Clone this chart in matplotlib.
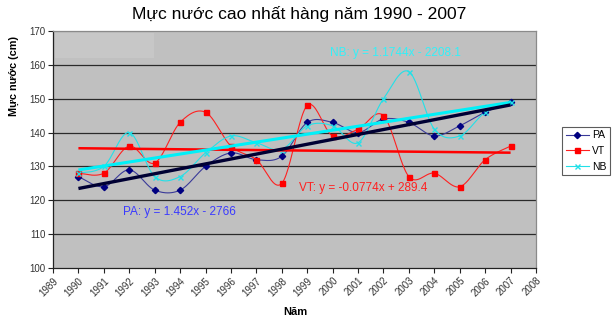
import numpy as np
import matplotlib
matplotlib.use("Agg")
import matplotlib.pyplot as plt
from matplotlib.patches import Rectangle
from matplotlib.lines import Line2D

plt.rcParams["font.family"] = ["Liberation Sans", "DejaVu Sans"]

# Annual peak water levels (cm)
years = list(range(1990, 2008))
pa = [127, 124, 129, 123, 123, 130, 134, 132, 133, 143, 143, 140, 144, 143, 139, 142, 146, 149]
vt = [128, 128, 136, 131, 143, 146, 136, 132, 125, 148, 139, 141, 145, 127, 128, 124, 132, 136]
nb = [128, 130, 140, 127, 127, 134, 139, 137, 135, 142, 142, 137, 150, 158, 141, 139, 146, 149]

# Linear trend coefficients (slope, intercept)
pa_trend = (1.452, -2766.0)
vt_trend = (-0.0774, 289.4)
nb_trend = (1.1744, -2208.1)

series_names = ["PA", "VT", "NB"]
x_ticks = list(range(1989, 2009))
y_ticks = list(range(100, 171, 10))


def smooth(xs, ys, n=24):
    """Cardinal (Bezier) smoothing through every point, spreadsheet style."""
    p = np.column_stack([xs, ys]).astype(float)
    m = len(p)
    out = []
    for i in range(m - 1):
        p0 = p[i - 1] if i > 0 else p[i]
        p1, p2 = p[i], p[i + 1]
        p3 = p[i + 2] if i + 2 < m else p[i + 1]
        c1 = p1 + (p2 - p0) / 6.0
        c2 = p2 - (p3 - p1) / 6.0
        t = np.linspace(0, 1, n, endpoint=(i == m - 2))[:, None]
        seg = ((1 - t) ** 3) * p1 + 3 * ((1 - t) ** 2) * t * c1 + 3 * (1 - t) * t ** 2 * c2 + t ** 3 * p2
        out.append(seg)
    out = np.vstack(out)
    return out[:, 0], out[:, 1]


fig = plt.figure(figsize=(6.15, 3.22), dpi=100)
fig.patch.set_facecolor("white")
ax = fig.add_axes([53 / 615, 1 - 268 / 322, 483 / 615, 237 / 322])
ax.set_facecolor("#c0c0c0")

# faint banner in the top-left corner of the plot area
ax.add_patch(Rectangle((0.004, 0.885), 0.205, 0.105, transform=ax.transAxes,
                       facecolor="#c7c7c7", edgecolor="none", zorder=0.5))

ax.set_xlim(1989, 2008)
ax.set_ylim(100, 170)
for v in y_ticks[1:-1]:
    ax.axhline(v, color="#2a2a2a", lw=0.9, zorder=1)

styles = {
    "PA": dict(data=pa, line="#3a3a99", mcol="#000080", marker="D", ms=3.2),
    "VT": dict(data=vt, line="#ff2020", mcol="#ff0000", marker="s", ms=3.6),
    "NB": dict(data=nb, line="#22e0e8", mcol="#22e0e8", marker="x", ms=3.6),
}
trends = {"PA": (pa_trend, "#000033", 2.4), "VT": (vt_trend, "#ff0000", 1.8),
          "NB": (nb_trend, "#00f0f8", 2.2)}

handles = []
for name in series_names:
    st = styles[name]
    sx, sy = smooth(years, st["data"])
    ax.plot(sx, sy, color=st["line"], lw=0.8, zorder=3)
    ax.plot(years, st["data"], ls="none", marker=st["marker"], ms=st["ms"],
            mfc=st["mcol"], mec=st["mcol"], mew=1.0, zorder=4)
    handles.append(Line2D([], [], color=st["line"], lw=0.8, marker=st["marker"],
                          ms=st["ms"], mfc=st["mcol"], mec=st["mcol"]))

for name in ["VT", "NB", "PA"]:
    (a, b), col, lw = trends[name]
    tx = np.array([years[0], years[-1]], dtype=float)
    ax.plot(tx, a * tx + b, color=col, lw=lw, zorder=5, solid_capstyle="butt")

ax.text(330 / 615, 1 - 53 / 322, "NB: y = 1.1744x - 2208.1", transform=fig.transFigure,
        color="#33f0f8", fontsize=8.5, va="center", ha="left")
ax.text(299 / 615, 1 - 188 / 322, "VT: y = -0.0774x + 289.4", transform=fig.transFigure,
        color="#ff2020", fontsize=8.5, va="center", ha="left")
ax.text(123 / 615, 1 - 212 / 322, "PA: y = 1.452x - 2766", transform=fig.transFigure,
        color="#3a3aff", fontsize=8.5, va="center", ha="left")

ax.set_xticks(x_ticks)
ax.set_xticklabels([str(v) for v in x_ticks], rotation=45, ha="right", va="top",
                   rotation_mode="anchor", fontsize=7, color="#333333")
ax.set_yticks(y_ticks)
ax.set_yticklabels([str(v) for v in y_ticks], fontsize=7, color="#333333")
ax.tick_params(axis="both", direction="out", length=3.5, width=0.8, color="#222222", pad=2)

for side in ["top", "right"]:
    ax.spines[side].set_color("#8a8a8a")
    ax.spines[side].set_linewidth(0.9)
for side in ["left", "bottom"]:
    ax.spines[side].set_color("#222222")
    ax.spines[side].set_linewidth(0.9)

fig.text(299 / 615, 1 - 14 / 322, "Mực nước cao nhất hàng năm 1990 - 2007",
         ha="center", va="center", fontsize=12.6)
fig.text(14 / 615, 1 - 76 / 322, "Mực nước (cm)", rotation=90, ha="center", va="center",
         fontsize=7.8, fontweight="bold")
fig.text(295 / 615, 1 - 312 / 322, "Năm", ha="center", va="center", fontsize=8,
         fontweight="bold")

leg = fig.legend(handles, series_names, loc="center", bbox_to_anchor=(586 / 615, 1 - 151 / 322),
                 fontsize=7.5, frameon=True, fancybox=False, edgecolor="#333333",
                 handlelength=2.2, handletextpad=0.3, borderpad=0.35, labelspacing=0.55,
                 borderaxespad=0)
leg.get_frame().set_linewidth(0.8)

fig.savefig("out.png", dpi=100, facecolor="white")
